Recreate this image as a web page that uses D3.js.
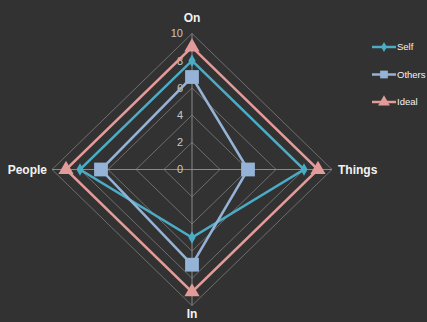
<!DOCTYPE html>
<html>
<head>
<meta charset="utf-8">
<script src="https://cdn.jsdelivr.net/npm/d3@7"></script>
<style>
  body { margin: 0; background: #323232; }
  svg { display: block; font-family: "Liberation Sans", Arial, sans-serif; }
</style>
</head>
<body>
<div id="chart"></div>
<script>
const categories = ['On', 'Things', 'In', 'People']
const seriesNames = ['Self', 'Others', 'Ideal']
const selfValues = [8, 8, 5, 8]
const othersValues = [6.8, 4, 7, 6.5]
const idealValues = [9, 9, 9, 9]
const tickValues = [0, 2, 4, 6, 8, 10]

const dimensions = { width: 427, height: 322, cx: 192, cy: 169.5, rx: 140, ry: 136 }

const colors = { Self: '#4bacc6', Others: '#95b3d7', Ideal: '#e39b99' }
const markers = { Self: d3.symbolDiamond, Others: d3.symbolSquare, Ideal: d3.symbolTriangle }
const markerSize = { Self: 45, Others: 190, Ideal: 100 }

const svg = d3.select('#chart')
  .append('svg')
  .attr('width', dimensions.width)
  .attr('height', dimensions.height)

svg.append('rect')
  .attr('width', dimensions.width)
  .attr('height', dimensions.height)
  .attr('fill', '#323232')

const ctr = svg.append('g')
  .attr('transform', `translate(${dimensions.cx}, ${dimensions.cy})`)

const xScale = d3.scaleLinear().domain([0, 10]).range([0, dimensions.rx])
const yScale = d3.scaleLinear().domain([0, 10]).range([0, dimensions.ry])

// on top, then clockwise
const dirs = [[0, -1], [1, 0], [0, 1], [-1, 0]]
const point = (v, i) => [dirs[i][0] * xScale(v), dirs[i][1] * yScale(v)]

// rings
const lineGen = d3.line()
tickValues.filter(t => t > 0).forEach(t => {
  ctr.append('path')
    .attr('d', lineGen(categories.map((c, i) => point(t, i))) + 'Z')
    .attr('fill', 'none')
    .attr('stroke', '#6e6e6e')
    .attr('stroke-width', 1)
})

// spokes
categories.forEach((c, i) => {
  const [x, y] = point(10, i)
  ctr.append('line')
    .attr('x1', 0).attr('y1', 0)
    .attr('x2', x).attr('y2', y)
    .attr('stroke', '#8a8a8a')
    .attr('stroke-width', 1)
})

// tick labels
ctr.selectAll('.tick-label')
  .data(tickValues)
  .join('text')
  .attr('x', -9)
  .attr('y', d => -yScale(d))
  .attr('dy', '0.35em')
  .attr('text-anchor', 'end')
  .attr('fill', '#c8c8c8')
  .style('font-size', '11px')
  .text(d => d)

// category labels
const labelPos = [
  { x: 0, y: -yScale(10) - 12, anchor: 'middle' },
  { x: xScale(10) + 6, y: 4, anchor: 'start' },
  { x: 0, y: yScale(10) + 12, anchor: 'middle' },
  { x: -xScale(10) - 5, y: 4, anchor: 'end' }
]
categories.forEach((c, i) => {
  ctr.append('text')
    .attr('x', labelPos[i].x)
    .attr('y', labelPos[i].y)
    .attr('text-anchor', labelPos[i].anchor)
    .attr('fill', '#f2f2f2')
    .style('font-size', '12px')
    .style('font-weight', 'bold')
    .text(c)
})

const series = [
  { name: 'Self', values: selfValues },
  { name: 'Others', values: othersValues },
  { name: 'Ideal', values: idealValues }
]

series.forEach(s => {
  const pts = s.values.map((v, i) => point(v, i))
  ctr.append('path')
    .attr('d', lineGen(pts) + 'Z')
    .attr('fill', 'none')
    .attr('stroke', colors[s.name])
    .attr('stroke-width', 2.5)
  ctr.selectAll(`.m-${s.name}`)
    .data(pts)
    .join('path')
    .attr('transform', d => `translate(${d[0]}, ${d[1]})`)
    .attr('d', d3.symbol(markers[s.name], markerSize[s.name]))
    .attr('fill', colors[s.name])
})

// legend
const legend = svg.append('g').attr('transform', 'translate(372, 47)')
seriesNames.forEach((name, i) => {
  const g = legend.append('g').attr('transform', `translate(0, ${i * 27.5})`)
  g.append('line')
    .attr('x1', 0).attr('x2', 24)
    .attr('stroke', colors[name])
    .attr('stroke-width', 2.5)
  g.append('path')
    .attr('transform', 'translate(12, 0)')
    .attr('d', d3.symbol(markers[name], name === 'Self' ? 30 : 60))
    .attr('fill', colors[name])
  g.append('text')
    .attr('x', 25)
    .attr('dy', '0.35em')
    .attr('fill', '#f2f2f2')
    .style('font-size', '9.5px')
    .text(name)
})
</script>
</body>
</html>
